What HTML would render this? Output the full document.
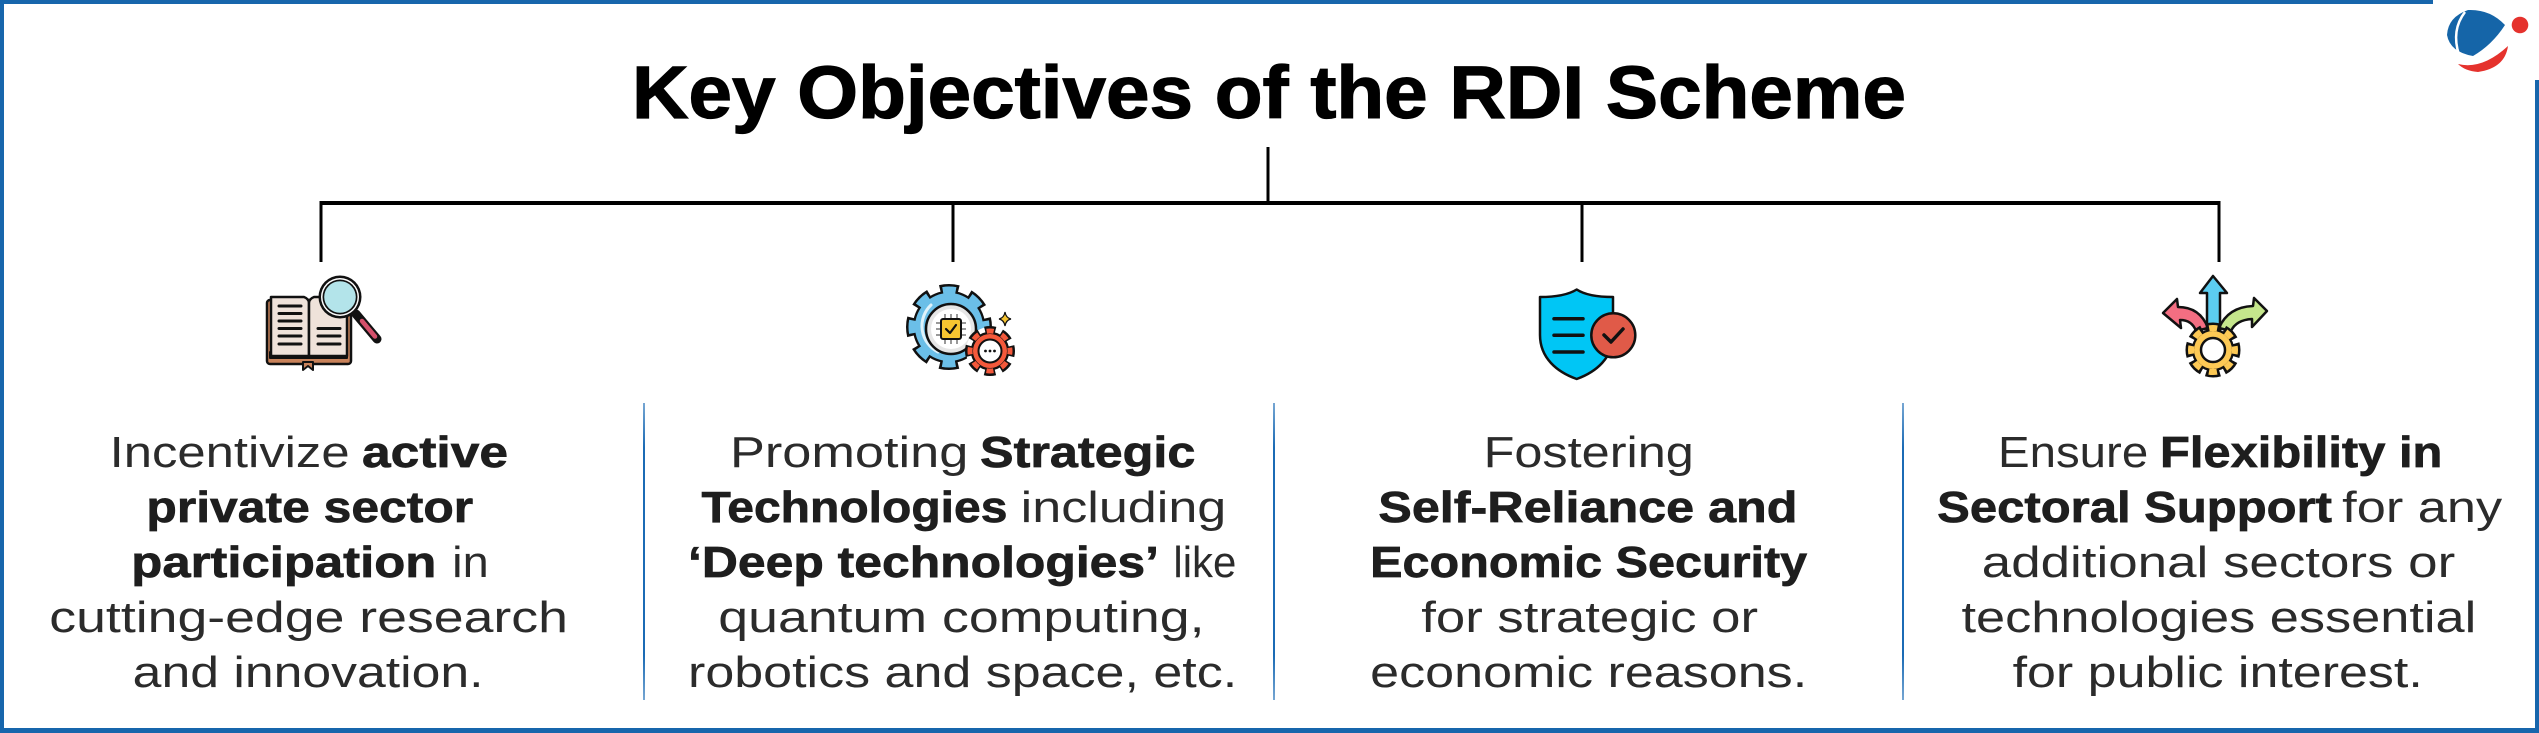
<!DOCTYPE html>
<html>
<head>
<meta charset="utf-8">
<style>
  html,body{margin:0;padding:0;background:#fff;}
  svg{display:block;}
  .t{font-family:"Liberation Sans",Arial,sans-serif;font-size:44px;fill:#2b2b2b;}
  .b{font-weight:bold;fill:#1e1e1e;stroke:#1e1e1e;stroke-width:0.7px;}
  .title{font-family:"Liberation Sans",Arial,sans-serif;font-weight:bold;font-size:74px;fill:#000;stroke:#000;stroke-width:1.2px;}
</style>
</head>
<body>
<svg width="2539" height="733" viewBox="0 0 2539 733" xmlns="http://www.w3.org/2000/svg">
  <defs>
    <linearGradient id="sep" x1="0" y1="0" x2="0" y2="1">
      <stop offset="0" stop-color="#1b6bb5" stop-opacity="0.6"/>
      <stop offset="0.15" stop-color="#1b6bb5" stop-opacity="1"/>
      <stop offset="0.85" stop-color="#1b6bb5" stop-opacity="1"/>
      <stop offset="1" stop-color="#1b6bb5" stop-opacity="0.6"/>
    </linearGradient>
  </defs>
  <rect x="0" y="0" width="2539" height="733" fill="#fff"/>

  <!-- borders -->
  <rect x="0" y="0" width="2433" height="4" fill="#1766ac"/>
  <rect x="0" y="0" width="4" height="733" fill="#1766ac"/>
  <rect x="0" y="728" width="2539" height="5" fill="#1766ac"/>
  <rect x="2535" y="80" width="4" height="653" fill="#1766ac"/>

  <!-- logo -->
  <path d="M2468,10 Q2490,9 2505,25 Q2492,45 2473,56 Q2450,52 2447,35 Q2448,17 2468,10 Z" fill="#1565a8"/>
  <path d="M2465,12 Q2451,30 2459,55" stroke="#fff" stroke-width="2.5" fill="none"/>
  <circle cx="2520" cy="25" r="8.3" fill="#e5322d"/>
  <path d="M2458,64 Q2482,70 2508,46 Q2505,68 2478,72 Q2465,71 2458,64 Z" fill="#e5322d"/>

  <!-- title -->
  <text class="title" x="632" y="118" textLength="1274" lengthAdjust="spacingAndGlyphs">Key Objectives of the RDI Scheme</text>

  <!-- connectors -->
  <rect x="1266.5" y="147" width="3" height="57" fill="#000"/>
  <rect x="319.5" y="201" width="1901" height="4" fill="#000"/>
  <rect x="319.5" y="203" width="3" height="59" fill="#000"/>
  <rect x="951.5" y="203" width="3" height="59" fill="#000"/>
  <rect x="1580.5" y="203" width="3" height="59" fill="#000"/>
  <rect x="2217.5" y="203" width="3" height="59" fill="#000"/>

  <!-- separators -->
  <rect x="643" y="403" width="2" height="297" fill="url(#sep)"/>
  <rect x="1273" y="403" width="2" height="297" fill="url(#sep)"/>
  <rect x="1902" y="403" width="2" height="297" fill="url(#sep)"/>

  <!-- ICON 1: book + magnifier -->
  <g stroke-linejoin="round">
    <rect x="267" y="300" width="84" height="64" rx="3" fill="#c9825a" stroke="#111" stroke-width="2.5"/>
    <path d="M303,362 L303,370 L308,366 L313,370 L313,362 Z" fill="#c9825a" stroke="#111" stroke-width="2"/>
    <rect x="270" y="352" width="77" height="6" fill="#f7f1ee" stroke="#111" stroke-width="2"/>
    <path d="M271,297 L304,297 Q309,299 309,303 L309,356 L271,356 Z" fill="#efe2da" stroke="#111" stroke-width="2.5"/>
    <path d="M347,297 L314,297 Q309,299 309,303 L309,356 L347,356 Z" fill="#efe2da" stroke="#111" stroke-width="2.5"/>
    <g stroke="#111" stroke-width="3" stroke-linecap="round">
      <line x1="279" y1="306" x2="301" y2="306"/>
      <line x1="279" y1="313.5" x2="301" y2="313.5"/>
      <line x1="279" y1="321" x2="301" y2="321"/>
      <line x1="279" y1="328.5" x2="301" y2="328.5"/>
      <line x1="279" y1="336" x2="301" y2="336"/>
      <line x1="279" y1="344" x2="301" y2="344"/>
      <line x1="318" y1="328.5" x2="340" y2="328.5"/>
      <line x1="318" y1="336" x2="340" y2="336"/>
      <line x1="318" y1="344" x2="340" y2="344"/>
    </g>
    <line x1="356" y1="314" x2="377" y2="339" stroke="#111" stroke-width="9" stroke-linecap="round"/>
    <line x1="362" y1="321" x2="375" y2="336.5" stroke="#d4506b" stroke-width="4.5" stroke-linecap="round"/>
    <circle cx="340" cy="297" r="21.5" fill="#111"/>
    <circle cx="340" cy="297" r="19" fill="#fff"/>
    <circle cx="340" cy="297" r="17.5" fill="#111"/>
    <circle cx="340" cy="297" r="15.8" fill="#b3e4ea"/>
  </g>

  <!-- ICON 2: gears -->
  <g>
    <circle cx="949" cy="327" r="37" fill="none" stroke="#111" stroke-width="12" stroke-dasharray="18 11.06" stroke-dashoffset="9"/>
    <circle cx="949" cy="327" r="36.3" fill="#111"/>
    <circle cx="949" cy="327" r="37" fill="none" stroke="#6bbfe8" stroke-width="7" stroke-dasharray="13 16.06" stroke-dashoffset="6.5"/>
    <circle cx="949" cy="327" r="34" fill="#6bbfe8"/>
    <path d="M931,305 A29,29 0 0,0 938,352" stroke="#dff3fb" stroke-width="3" fill="none" stroke-linecap="round"/>
    <circle cx="951" cy="329" r="25" fill="#e6e6e6" stroke="#111" stroke-width="2.5"/>
    <circle cx="951" cy="329" r="20" fill="#fff"/>
    <g stroke="#777" stroke-width="1.5">
      <line x1="945" y1="314" x2="945" y2="318"/><line x1="951" y1="314" x2="951" y2="318"/><line x1="957" y1="314" x2="957" y2="318"/>
      <line x1="945" y1="340" x2="945" y2="344"/><line x1="951" y1="340" x2="951" y2="344"/><line x1="957" y1="340" x2="957" y2="344"/>
      <line x1="936" y1="323" x2="940" y2="323"/><line x1="936" y1="329" x2="940" y2="329"/><line x1="936" y1="335" x2="940" y2="335"/>
      <line x1="962" y1="323" x2="966" y2="323"/><line x1="962" y1="329" x2="966" y2="329"/><line x1="962" y1="335" x2="966" y2="335"/>
    </g>
    <rect x="941" y="319" width="20" height="20" rx="2" fill="#f7c531" stroke="#111" stroke-width="2"/>
    <polyline points="946,329 950,333 956,325" fill="none" stroke="#111" stroke-width="2.2" stroke-linecap="round" stroke-linejoin="round"/>
    <circle cx="990" cy="351" r="24" fill="#fff"/>
    <circle cx="990" cy="351" r="20" fill="none" stroke="#111" stroke-width="10" stroke-dasharray="10 5.71" stroke-dashoffset="5"/>
    <circle cx="990" cy="351" r="19.3" fill="#111"/>
    <circle cx="990" cy="351" r="20" fill="none" stroke="#f4593b" stroke-width="5" stroke-dasharray="7 8.71" stroke-dashoffset="3.5"/>
    <circle cx="990" cy="351" r="17" fill="#f4593b"/>
    <circle cx="990" cy="351" r="11.5" fill="#fff" stroke="#111" stroke-width="2"/>
    <circle cx="985.5" cy="351" r="1.4" fill="#111"/><circle cx="990" cy="351" r="1.4" fill="#111"/><circle cx="994.5" cy="351" r="1.4" fill="#111"/>
    <path d="M1005,312 Q1006,318 1011,319 Q1006,320 1005,326 Q1004,320 999,319 Q1004,318 1005,312 Z" fill="#f7c531" stroke="#111" stroke-width="1.2"/>
  </g>

  <!-- ICON 3: shield -->
  <g stroke-linejoin="round">
    <path d="M1540,297 C1555,297 1568,295 1576.7,289.5 C1585,295 1598,297 1613,297 L1613,335 C1613,358 1596,372 1576.7,379 C1557,372 1540,358 1540,335 Z" fill="#00c6f5" stroke="#111" stroke-width="2.5"/>
    <g stroke="#111" stroke-width="3.5" stroke-linecap="round">
      <line x1="1554" y1="318.7" x2="1583" y2="318.7"/>
      <line x1="1554" y1="335.3" x2="1583" y2="335.3"/>
      <line x1="1554" y1="352" x2="1583" y2="352"/>
    </g>
    <circle cx="1613.3" cy="335.3" r="22" fill="#e05a48" stroke="#111" stroke-width="2.5"/>
    <polyline points="1604,335 1611,342 1623,329" fill="none" stroke="#111" stroke-width="3.5" stroke-linecap="round" stroke-linejoin="round"/>
  </g>

  <!-- ICON 4: gear with arrows -->
  <g stroke-linejoin="round">
    <path d="M2163,313 L2177,299 L2178,307 Q2200,307 2208,328 L2196,331 Q2192,320 2180,320 L2181,328 Z" fill="#f36e82" stroke="#111" stroke-width="2.5"/>
    <path d="M2267,311 L2254,298 L2253,306 Q2228,307 2219,328 L2231,331 Q2236,320 2252,319 L2252,327 Z" fill="#c5e68c" stroke="#111" stroke-width="2.5"/>
    <path d="M2213,276 L2227,293 L2220,293 L2220,332 L2207,332 L2207,293 L2200,293 Z" fill="#5ccdf0" stroke="#111" stroke-width="2.5"/>
    <circle cx="2213" cy="350" r="22" fill="none" stroke="#111" stroke-width="11" stroke-dasharray="13 4.28" stroke-dashoffset="6.5"/>
    <circle cx="2213" cy="350" r="21.3" fill="#111"/>
    <circle cx="2213" cy="350" r="22" fill="none" stroke="#fdc955" stroke-width="6" stroke-dasharray="8 9.28" stroke-dashoffset="4"/>
    <circle cx="2213" cy="350" r="19" fill="#fdc955"/>
    <circle cx="2213" cy="350" r="12" fill="#fff" stroke="#111" stroke-width="2.5"/>
  </g>

  <!-- Column 1 text -->
  <text class="t" x="109.6" y="467" textLength="240" lengthAdjust="spacingAndGlyphs">Incentivize</text>
  <text class="t b" x="362" y="467" textLength="146" lengthAdjust="spacingAndGlyphs">active</text>
  <text class="t b" x="146.4" y="522" textLength="326.8" lengthAdjust="spacingAndGlyphs">private sector</text>
  <text class="t b" x="131.3" y="577" textLength="305" lengthAdjust="spacingAndGlyphs">participation</text>
  <text class="t" x="452.2" y="577" textLength="36.5" lengthAdjust="spacingAndGlyphs">in</text>
  <text class="t" x="49.3" y="632" textLength="518.6" lengthAdjust="spacingAndGlyphs">cutting-edge research</text>
  <text class="t" x="132.7" y="687" textLength="350.8" lengthAdjust="spacingAndGlyphs">and innovation.</text>

  <!-- Column 2 text -->
  <text class="t" x="730" y="467" textLength="238.3" lengthAdjust="spacingAndGlyphs">Promoting</text>
  <text class="t b" x="980" y="467" textLength="215.4" lengthAdjust="spacingAndGlyphs">Strategic</text>
  <text class="t b" x="701.5" y="522" textLength="305.9" lengthAdjust="spacingAndGlyphs">Technologies</text>
  <text class="t" x="1020.7" y="522" textLength="205.6" lengthAdjust="spacingAndGlyphs">including</text>
  <text class="t b" x="688" y="577" textLength="471" lengthAdjust="spacingAndGlyphs">‘Deep technologies’</text>
  <text class="t" x="1173.4" y="577" textLength="63" lengthAdjust="spacingAndGlyphs">like</text>
  <text class="t" x="718.3" y="632" textLength="486.2" lengthAdjust="spacingAndGlyphs">quantum computing,</text>
  <text class="t" x="688" y="687" textLength="549.2" lengthAdjust="spacingAndGlyphs">robotics and space, etc.</text>

  <!-- Column 3 text -->
  <text class="t" x="1483.6" y="467" textLength="210.2" lengthAdjust="spacingAndGlyphs">Fostering</text>
  <text class="t b" x="1378.3" y="522" textLength="419.2" lengthAdjust="spacingAndGlyphs">Self-Reliance and</text>
  <text class="t b" x="1370.2" y="577" textLength="437" lengthAdjust="spacingAndGlyphs">Economic Security</text>
  <text class="t" x="1421.3" y="632" textLength="336.7" lengthAdjust="spacingAndGlyphs">for strategic or</text>
  <text class="t" x="1370.2" y="687" textLength="437" lengthAdjust="spacingAndGlyphs">economic reasons.</text>

  <!-- Column 4 text -->
  <text class="t" x="1998" y="467" textLength="150.2" lengthAdjust="spacingAndGlyphs">Ensure</text>
  <text class="t b" x="2160" y="467" textLength="282.4" lengthAdjust="spacingAndGlyphs">Flexibility in</text>
  <text class="t b" x="1937.2" y="522" textLength="394.8" lengthAdjust="spacingAndGlyphs">Sectoral Support</text>
  <text class="t" x="2342.2" y="522" textLength="160" lengthAdjust="spacingAndGlyphs">for any</text>
  <text class="t" x="1981.8" y="577" textLength="473.4" lengthAdjust="spacingAndGlyphs">additional sectors or</text>
  <text class="t" x="1961.5" y="632" textLength="514.7" lengthAdjust="spacingAndGlyphs">technologies essential</text>
  <text class="t" x="2012.6" y="687" textLength="410.2" lengthAdjust="spacingAndGlyphs">for public interest.</text>
</svg>
</body>
</html>
